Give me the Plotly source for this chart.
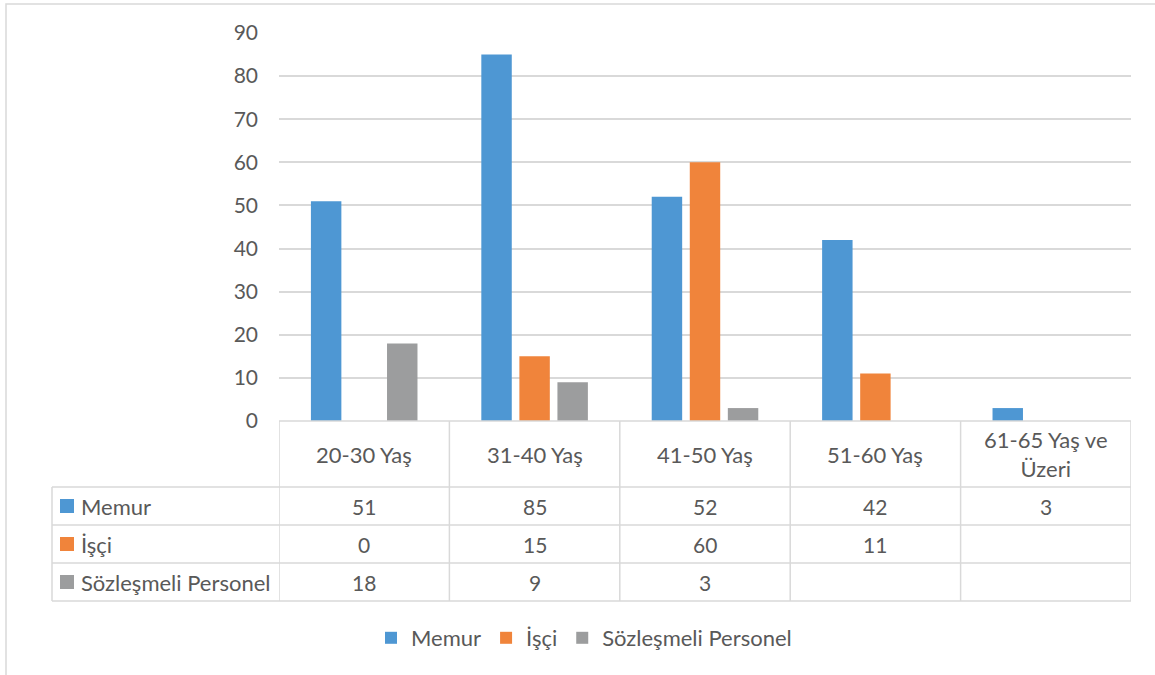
import plotly.graph_objects as go

categories = ["20-30 Yaş", "31-40 Yaş", "41-50 Yaş", "51-60 Yaş", "61-65 Yaş ve<br>Üzeri"]
series_names = ["Memur", "İşçi", "Sözleşmeli Personel"]
memur = [51, 85, 52, 42, 3]
isci = [0, 15, 60, 11, None]
sozlesmeli = [18, 9, 3, None, None]
colors = ["#4E97D3", "#F0843B", "#9C9D9E"]
y_ticks = [0, 10, 20, 30, 40, 50, 60, 70, 80, 90]

W, H = 1155, 675
FONT = "Lato"
FS = 21
FS_TXT = 22
TXT = "#595959"
GRID = "#D9D9D9"


def px(x):
    return x / W


def py(y):
    return 1 - y / H


fig = go.Figure()
for name, vals, col in zip(series_names, [memur, isci, sozlesmeli], colors):
    fig.add_trace(go.Bar(name=name, x=list(range(len(categories))), y=vals,
                         marker=dict(color=col, line=dict(width=0))))

shapes = []
annotations = []

# table geometry (y in pixels -> paper)
y_top, y_cat, rows_y = 421, 487, [487, 525, 563, 601]
x_left = 52
n = len(categories)

# horizontal lines
shapes.append(dict(type="line", xref="x", yref="paper", x0=-0.5, x1=n - 0.5,
                   y0=py(y_top), y1=py(y_top), line=dict(color=GRID, width=1.5)))
for yy in rows_y:
    shapes.append(dict(type="line", xref="paper", yref="paper", x0=px(x_left), x1=px(1131),
                       y0=py(yy), y1=py(yy), line=dict(color=GRID, width=1.5)))
# vertical lines
for i in range(n + 1):
    shapes.append(dict(type="line", xref="x", yref="paper", x0=i - 0.5, x1=i - 0.5,
                       y0=py(y_top), y1=py(rows_y[-1]), line=dict(color=GRID, width=1.5)))
shapes.append(dict(type="line", xref="paper", yref="paper", x0=px(x_left), x1=px(x_left),
                   y0=py(rows_y[0]), y1=py(rows_y[-1]), line=dict(color=GRID, width=1.5)))

# category labels
for i, c in enumerate(categories):
    annotations.append(dict(x=i, y=py((y_top + y_cat) / 2), xref="x", yref="paper",
                            text=c, showarrow=False, xanchor="center", yanchor="middle",
                            font=dict(family=FONT, size=FS_TXT, color=TXT)))

# rows
for r, (name, vals, col) in enumerate(zip(series_names, [memur, isci, sozlesmeli], colors)):
    yc = (rows_y[r] + rows_y[r + 1]) / 2
    shapes.append(dict(type="rect", xref="paper", yref="paper", x0=px(60), x1=px(74),
                       y0=py(yc + 7), y1=py(yc - 7), fillcolor=col, line=dict(width=0)))
    annotations.append(dict(x=px(79), y=py(yc), xref="paper", yref="paper", text=name,
                            showarrow=False, xanchor="left", yanchor="middle",
                            font=dict(family=FONT, size=FS_TXT, color=TXT)))
    for i, v in enumerate(vals):
        if v is None:
            continue
        annotations.append(dict(x=i, y=py(yc), xref="x", yref="paper", text=str(v),
                                showarrow=False, xanchor="center", yanchor="middle",
                                font=dict(family=FONT, size=FS, color=TXT)))

# chart border
shapes.append(dict(type="rect", xref="paper", yref="paper", x0=px(6), x1=1.02,
                   y0=-0.02, y1=py(4), line=dict(color=GRID, width=1.5), fillcolor="rgba(0,0,0,0)"))

fig.update_layout(
    width=W, height=H,
    margin=dict(l=0, r=0, t=0, b=0, pad=0, autoexpand=False),
    paper_bgcolor="white", plot_bgcolor="white",
    barmode="group", bargap=0.33, bargroupgap=0.2,
    font=dict(family=FONT, size=FS, color=TXT),
    xaxis=dict(domain=[px(279), px(1131)], range=[-0.5, n - 0.5], showticklabels=False,
               showgrid=False, zeroline=False, showline=False, fixedrange=True, automargin=False),
    yaxis=dict(domain=[py(421), py(33)], range=[0, 90], tickvals=y_ticks,
               showgrid=True, gridcolor=GRID, gridwidth=1.5, zeroline=False, showline=False,
               automargin=False, ticklabelstandoff=20,
               tickfont=dict(family=FONT, size=FS, color=TXT)),
    legend=dict(orientation="h", xref="container", yref="container",
                x=px(584), xanchor="center", y=py(638), yanchor="middle",
                font=dict(family=FONT, size=FS_TXT, color=TXT), itemwidth=30),
    shapes=shapes, annotations=annotations,
)

fig.write_html("out.html", config={"displayModeBar": False},
               post_script="document.body.style.margin='0';")
